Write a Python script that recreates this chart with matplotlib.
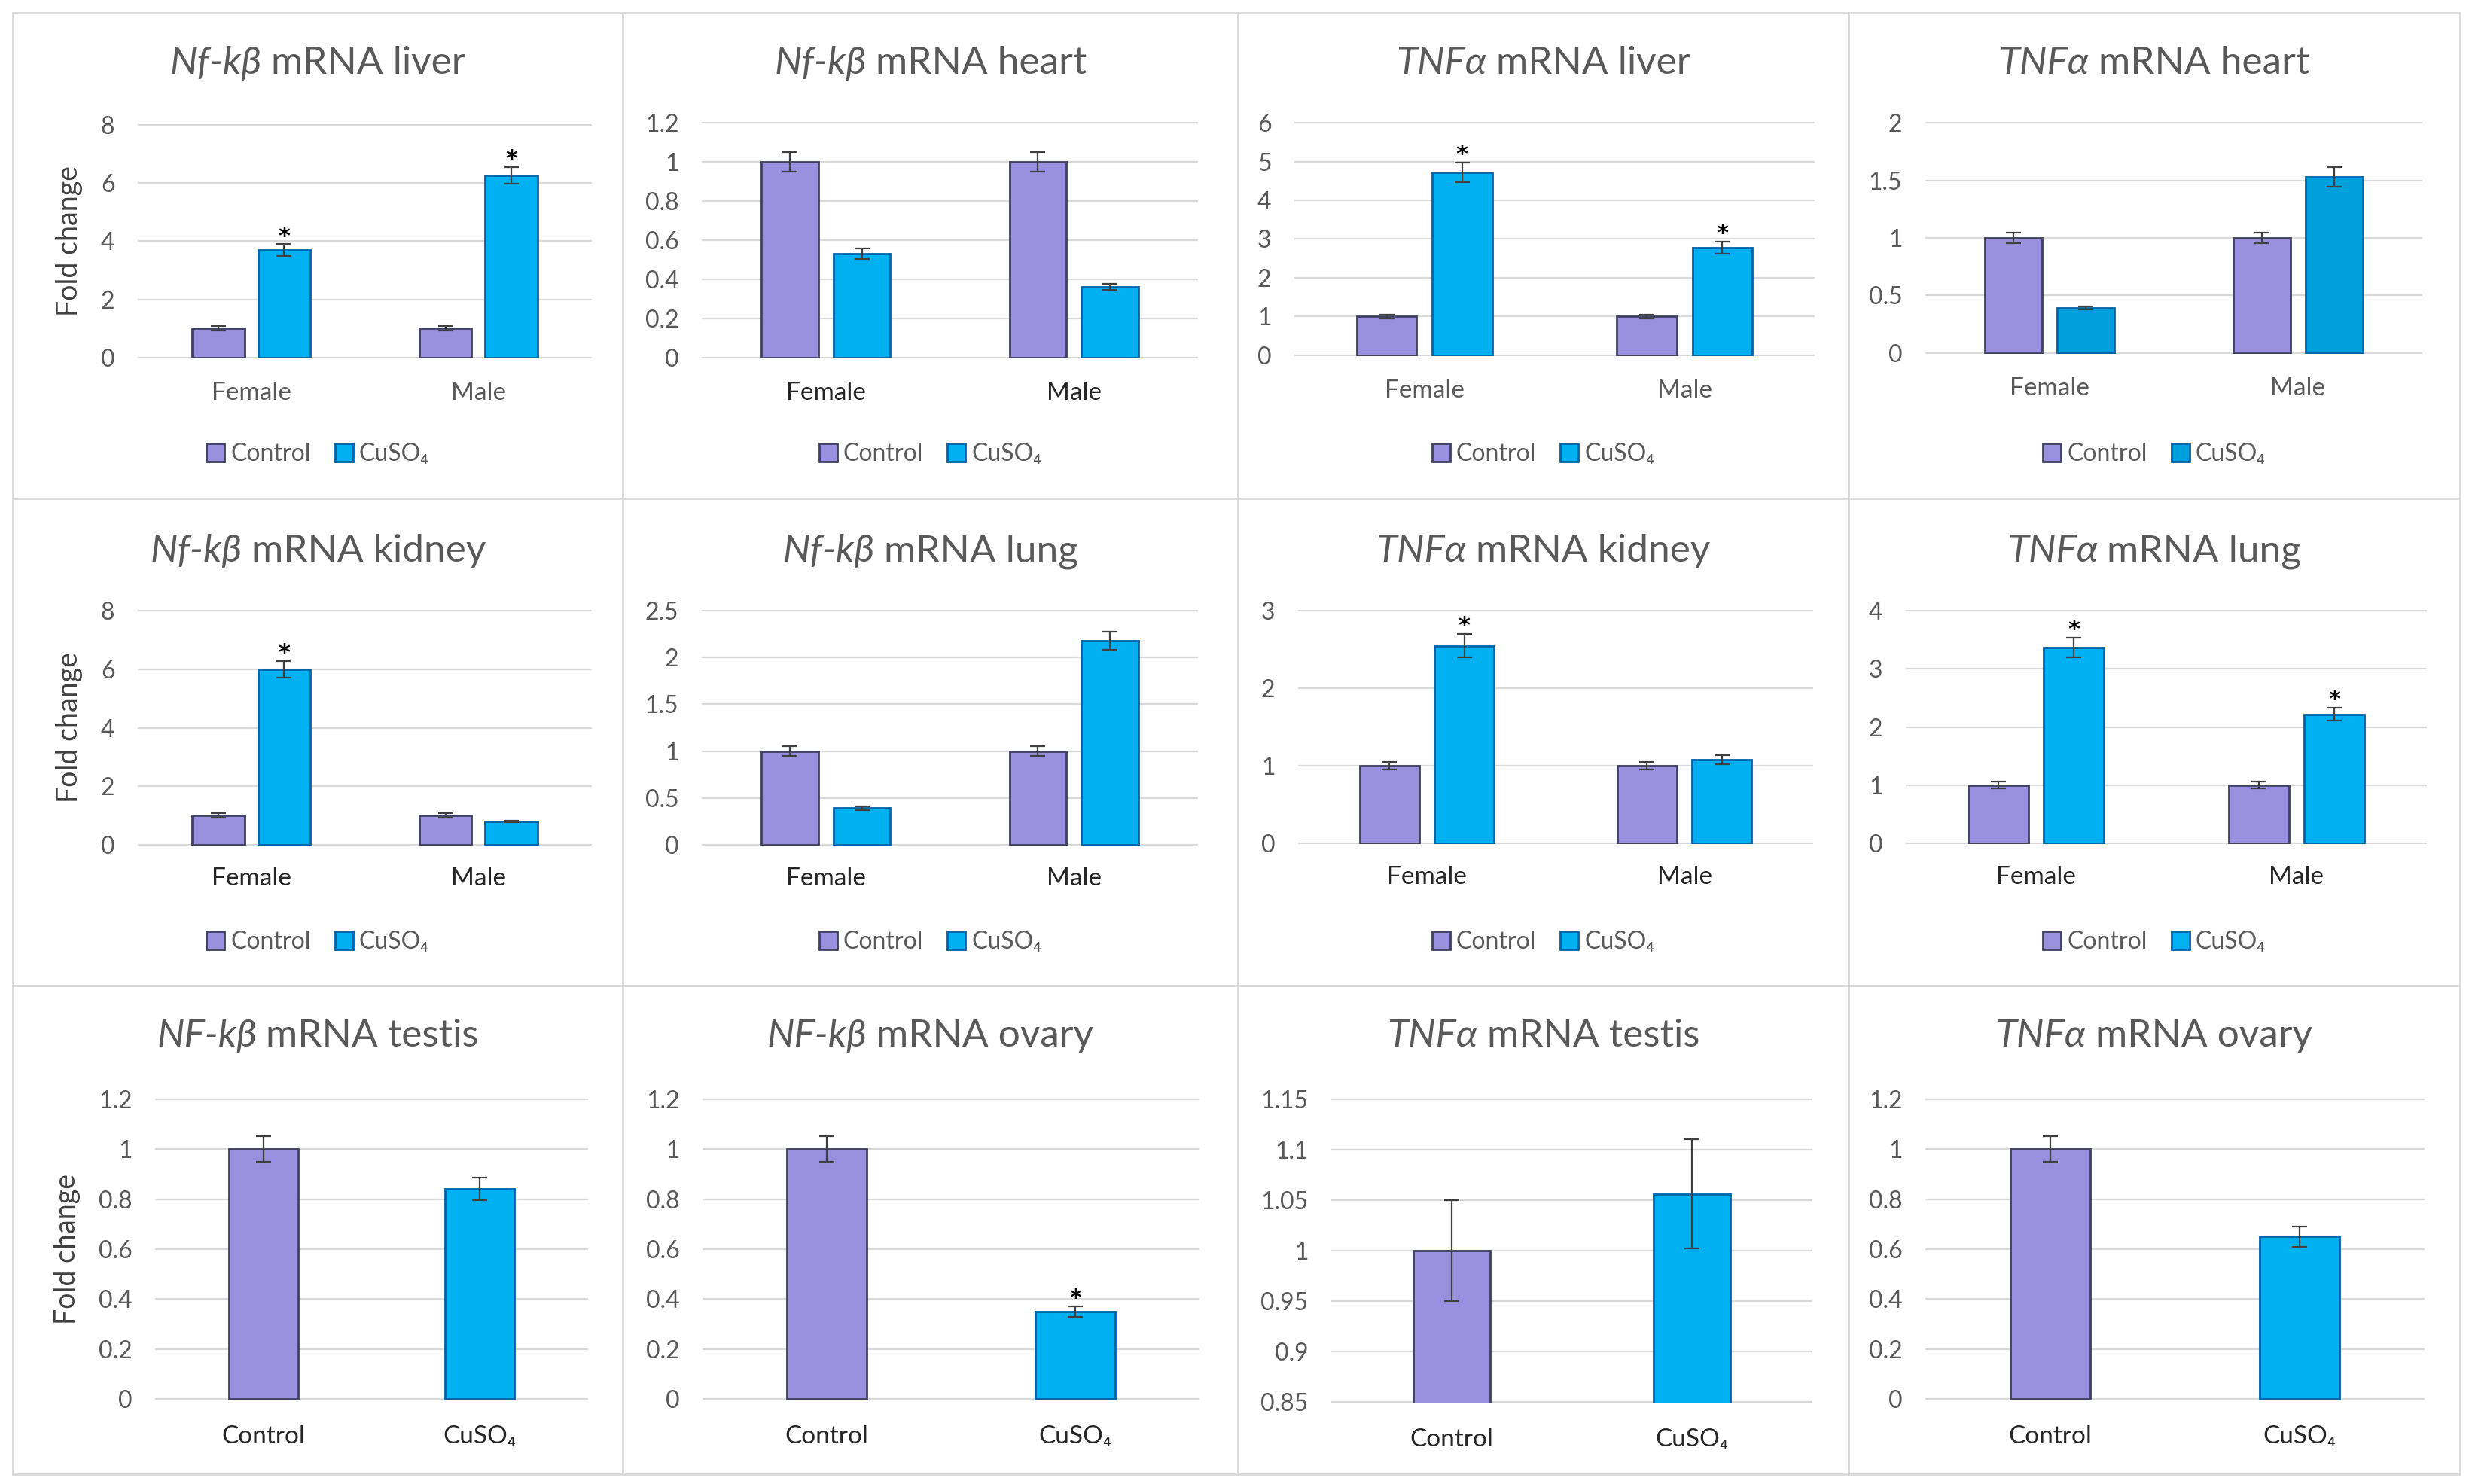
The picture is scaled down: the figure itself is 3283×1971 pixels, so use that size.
#!/usr/bin/env python3
"""Twelve-panel qPCR fold-change figure (Nf-kB / TNFa, CuSO4 vs control)."""

import matplotlib

matplotlib.use("Agg")

import matplotlib.pyplot as plt
from matplotlib.lines import Line2D
import numpy as np

W, H, DPI = 3283, 1971, 100

SEXES = ["Female", "Male"]
TREATMENTS = ["Control", "CuSO\u2084"]

# rows 1-2: values per sex (Female, Male)
nfkb_liver_ctrl, nfkb_liver_ctrl_err = [1.00, 1.00], [0.07, 0.07]
nfkb_liver_cu, nfkb_liver_cu_err = [3.70, 6.27], [0.20, 0.29]
nfkb_liver_sig = [True, True]

nfkb_heart_ctrl, nfkb_heart_ctrl_err = [1.00, 1.00], [0.05, 0.05]
nfkb_heart_cu, nfkb_heart_cu_err = [0.53, 0.36], [0.027, 0.015]
nfkb_heart_sig = [False, False]

tnf_liver_ctrl, tnf_liver_ctrl_err = [1.00, 1.00], [0.05, 0.05]
tnf_liver_cu, tnf_liver_cu_err = [4.72, 2.78], [0.25, 0.15]
tnf_liver_sig = [True, True]

tnf_heart_ctrl, tnf_heart_ctrl_err = [1.00, 1.00], [0.045, 0.045]
tnf_heart_cu, tnf_heart_cu_err = [0.39, 1.53], [0.015, 0.085]
tnf_heart_sig = [False, False]

nfkb_kidney_ctrl, nfkb_kidney_ctrl_err = [1.00, 1.00], [0.07, 0.07]
nfkb_kidney_cu, nfkb_kidney_cu_err = [6.00, 0.80], [0.28, 0.03]
nfkb_kidney_sig = [True, False]

nfkb_lung_ctrl, nfkb_lung_ctrl_err = [1.00, 1.00], [0.05, 0.05]
nfkb_lung_cu, nfkb_lung_cu_err = [0.39, 2.18], [0.02, 0.10]
nfkb_lung_sig = [False, False]

tnf_kidney_ctrl, tnf_kidney_ctrl_err = [1.00, 1.00], [0.05, 0.05]
tnf_kidney_cu, tnf_kidney_cu_err = [2.55, 1.08], [0.15, 0.06]
tnf_kidney_sig = [True, False]

tnf_lung_ctrl, tnf_lung_ctrl_err = [1.00, 1.00], [0.06, 0.06]
tnf_lung_cu, tnf_lung_cu_err = [3.37, 2.22], [0.17, 0.11]
tnf_lung_sig = [True, True]

# row 3: values per treatment (Control, CuSO4)
nfkb_testis, nfkb_testis_err, nfkb_testis_sig = [1.00, 0.84], [0.05, 0.045], [False, False]
nfkb_ovary, nfkb_ovary_err, nfkb_ovary_sig = [1.00, 0.35], [0.05, 0.022], [False, True]
tnf_testis, tnf_testis_err, tnf_testis_sig = [1.00, 1.056], [0.05, 0.054], [False, False]
tnf_ovary, tnf_ovary_err, tnf_ovary_sig = [1.00, 0.65], [0.05, 0.04], [False, False]

TITLES = [
    ("Nf-k\u03b2", "mRNA liver"), ("Nf-k\u03b2", "mRNA heart"),
    ("TNF\u03b1", "mRNA liver"), ("TNF\u03b1", "mRNA heart"),
    ("Nf-k\u03b2", "mRNA kidney"), ("Nf-k\u03b2", "mRNA lung"),
    ("TNF\u03b1", "mRNA kidney"), ("TNF\u03b1", "mRNA lung"),
    ("NF-k\u03b2", "mRNA testis"), ("NF-k\u03b2", "mRNA ovary"),
    ("TNF\u03b1", "mRNA testis"), ("TNF\u03b1", "mRNA ovary"),
]
Y_TICKS = [
    (0, 8, 2), (0, 1.2, 0.2), (0, 6, 1), (0, 2, 0.5),
    (0, 8, 2), (0, 2.5, 0.5), (0, 3, 1), (0, 4, 1),
    (0, 1.2, 0.2), (0, 1.2, 0.2), (0.85, 1.15, 0.05), (0, 1.2, 0.2),
]

# layout, in reference pixels
COL_EDGES = [17, 827, 1644, 2455, 3267]
ROW_EDGES = [17, 662, 1309, 1958]
AX_BOX = [
    (183, 165, 786, 476), (932, 162, 1591, 476), (1719, 162, 2410, 473), (2557, 162, 3217, 470),
    (183, 810, 786, 1123), (932, 810, 1591, 1123), (1724, 810, 2408, 1121), (2531, 810, 3223, 1121),
    (206, 1458, 781, 1860), (933, 1458, 1593, 1860), (1768, 1458, 2407, 1864), (2557, 1458, 3220, 1860),
]
TITLE_BASE = [98, 746, 1390]
LEGEND_Y = [603, 1251]
YLABEL_POS = [(92, 320), (92, 966), (89, 1659)]
XTICK_PAD = [22, 21, 24]

CTRL_FILL, CTRL_EDGE = "#9b8fe0", "#404060"
CU_FILL, CU_EDGE = "#00b0f0", "#0063a8"
CU_FILL_DARK = "#00a0dc"
GRID = "#d9d9d9"
TEXT_GRAY = "#595959"
TEXT_DARK = "#262626"
ERR_KW = dict(ecolor="#404040", elinewidth=1.6, capsize=7, capthick=1.6, zorder=4)

FONT = ["Lato", "Noto Sans", "DejaVu Sans"]
plt.rcParams.update({"font.family": FONT, "font.size": 22})

TITLE_SIZE = 37


def fx(px):
    return px / W


def fy(py):
    return 1 - py / H


def style_axis(ax, ticks, xcolor, xpad):
    lo, hi, step = ticks
    vals = np.arange(lo, hi + step / 2, step)
    eps = (hi - lo) * 0.004
    ax.set_ylim(lo - eps, hi + eps)
    ax.set_yticks(vals, [f"{round(v, 2):g}" for v in vals])
    for s in ax.spines.values():
        s.set_visible(False)
    ax.yaxis.grid(True, color=GRID, linewidth=1.6)
    ax.set_axisbelow(True)
    ax.tick_params(axis="y", length=0, pad=22, labelsize=23, labelcolor=TEXT_GRAY)
    ax.tick_params(axis="x", length=0, pad=xpad, labelsize=24, labelcolor=xcolor)


def mark_sig(ax, xs, vals, errs, sig):
    for xi, v, e, s in zip(xs, vals, errs, sig):
        if s:
            ax.annotate("*", (xi, v + e), xytext=(0, -3), textcoords="offset points",
                        ha="center", va="bottom", fontsize=22, fontweight="bold",
                        color="black", family="DejaVu Sans")


def draw_grouped(ax, ctrl, ctrl_err, cu, cu_err, sig, cu_fill=CU_FILL):
    x = np.arange(len(SEXES))
    bw, off = 0.23, 0.145
    ax.bar(x - off, ctrl, bw, yerr=ctrl_err, color=CTRL_FILL, edgecolor=CTRL_EDGE,
           linewidth=2, error_kw=ERR_KW, label=TREATMENTS[0], zorder=3)
    ax.bar(x + off, cu, bw, yerr=cu_err, color=cu_fill, edgecolor=CU_EDGE,
           linewidth=2, error_kw=ERR_KW, label=TREATMENTS[1], zorder=3)
    mark_sig(ax, x + off, cu, cu_err, sig)
    ax.set_xticks(x, SEXES)
    ax.set_xlim(-0.5, 1.5)


def draw_pair(ax, vals, errs, sig):
    x = np.arange(len(TREATMENTS))
    ax.bar(x, vals, 0.32, yerr=errs, color=[CTRL_FILL, CU_FILL],
           edgecolor=[CTRL_EDGE, CU_EDGE], linewidth=2, error_kw=ERR_KW, zorder=3)
    mark_sig(ax, x, vals, errs, sig)
    ax.set_xticks(x, TREATMENTS)
    ax.set_xlim(-0.5, 1.5)


def add_title(fig, renderer, cx, base, ital, rest):
    t1 = fig.text(0, fy(base), ital, style="italic", fontsize=TITLE_SIZE, color=TEXT_GRAY,
                  ha="left", va="baseline")
    t2 = fig.text(0, fy(base), rest, fontsize=TITLE_SIZE, color=TEXT_GRAY,
                  ha="left", va="baseline")
    w1 = t1.get_window_extent(renderer).width
    w2 = t2.get_window_extent(renderer).width
    gap = TITLE_SIZE * DPI / 72 * 0.24
    x0 = cx - (w1 + gap + w2) / 2
    t1.set_x(fx(x0))
    t2.set_x(fx(x0 + w1 + gap))


def main():
    fig = plt.figure(figsize=(W / DPI, H / DPI), dpi=DPI)
    fig.patch.set_facecolor("white")

    # panel frames
    for xe in COL_EDGES:
        fig.add_artist(Line2D([fx(xe)] * 2, [fy(ROW_EDGES[0]), fy(ROW_EDGES[-1])],
                              color=GRID, linewidth=2))
    for ye in ROW_EDGES:
        fig.add_artist(Line2D([fx(COL_EDGES[0]), fx(COL_EDGES[-1])], [fy(ye)] * 2,
                              color=GRID, linewidth=2))

    axes = []
    for (l, t, r, b) in AX_BOX:
        axes.append(fig.add_axes([fx(l), fy(b), (r - l) / W, (b - t) / H]))

    grouped = [
        (nfkb_liver_ctrl, nfkb_liver_ctrl_err, nfkb_liver_cu, nfkb_liver_cu_err, nfkb_liver_sig),
        (nfkb_heart_ctrl, nfkb_heart_ctrl_err, nfkb_heart_cu, nfkb_heart_cu_err, nfkb_heart_sig),
        (tnf_liver_ctrl, tnf_liver_ctrl_err, tnf_liver_cu, tnf_liver_cu_err, tnf_liver_sig),
        (tnf_heart_ctrl, tnf_heart_ctrl_err, tnf_heart_cu, tnf_heart_cu_err, tnf_heart_sig),
        (nfkb_kidney_ctrl, nfkb_kidney_ctrl_err, nfkb_kidney_cu, nfkb_kidney_cu_err, nfkb_kidney_sig),
        (nfkb_lung_ctrl, nfkb_lung_ctrl_err, nfkb_lung_cu, nfkb_lung_cu_err, nfkb_lung_sig),
        (tnf_kidney_ctrl, tnf_kidney_ctrl_err, tnf_kidney_cu, tnf_kidney_cu_err, tnf_kidney_sig),
        (tnf_lung_ctrl, tnf_lung_ctrl_err, tnf_lung_cu, tnf_lung_cu_err, tnf_lung_sig),
    ]
    pairs = [
        (nfkb_testis, nfkb_testis_err, nfkb_testis_sig),
        (nfkb_ovary, nfkb_ovary_err, nfkb_ovary_sig),
        (tnf_testis, tnf_testis_err, tnf_testis_sig),
        (tnf_ovary, tnf_ovary_err, tnf_ovary_sig),
    ]
    xcolors = [TEXT_GRAY, TEXT_DARK, TEXT_GRAY, TEXT_GRAY] + [TEXT_DARK] * 8

    for i, ax in enumerate(axes):
        row, col = divmod(i, 4)
        if i < 8:
            fill = CU_FILL_DARK if i == 3 else CU_FILL
            draw_grouped(ax, *grouped[i], cu_fill=fill)
            cx = (COL_EDGES[col] + COL_EDGES[col + 1]) / 2
            ax.legend(loc="center", bbox_to_anchor=(fx(cx), fy(LEGEND_Y[row])),
                      bbox_transform=fig.transFigure, ncol=2, frameon=False,
                      fontsize=23, handlelength=0.75, handleheight=0.75,
                      handletextpad=0.25, columnspacing=1.0, labelcolor=TEXT_GRAY)
        else:
            draw_pair(ax, *pairs[i - 8])
        style_axis(ax, Y_TICKS[i], xcolors[i], XTICK_PAD[row])

    for (px, py) in YLABEL_POS:
        fig.text(fx(px), fy(py), "Fold change", rotation=90, ha="center", va="center",
                 fontsize=27, color="#404040")

    renderer = fig.canvas.get_renderer()
    for i, (ital, rest) in enumerate(TITLES):
        row, col = divmod(i, 4)
        cx = (COL_EDGES[col] + COL_EDGES[col + 1]) / 2
        add_title(fig, renderer, cx, TITLE_BASE[row], ital, rest)

    fig.savefig("out.png", dpi=DPI, facecolor="white")
    plt.close(fig)


if __name__ == "__main__":
    main()
